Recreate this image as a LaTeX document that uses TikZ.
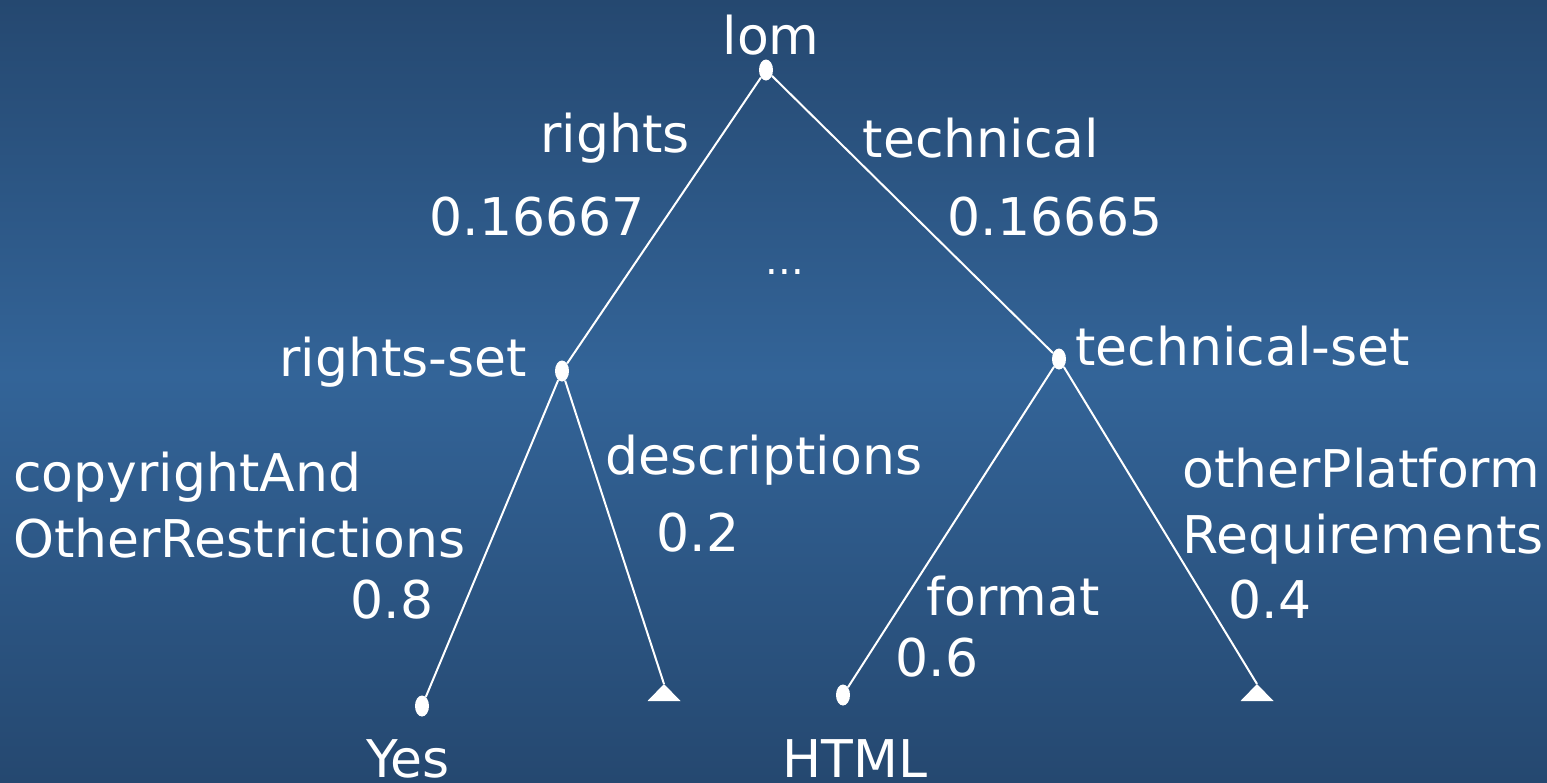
\documentclass[tikz,border=0pt]{standalone}
\usepackage{fontspec}
\setmainfont{DejaVu Sans}
\usetikzlibrary{shapes.geometric}
\definecolor{bgedge}{RGB}{37,72,112}
\definecolor{bgmid}{RGB}{51,100,152}
% vertical backdrop: dark at both edges, lighter near the middle
\pgfdeclareverticalshading{backdrop}{100bp}{color(0bp)=(bgedge); color(25bp)=(bgedge); color(51bp)=(bgmid); color(75bp)=(bgedge); color(100bp)=(bgedge)}
\begin{document}
\begin{tikzpicture}[x=1pt,y=-1pt,
  dot/.style={ellipse,fill=white,draw=none,inner sep=0pt,minimum width=14pt,minimum height=21pt},
  edge/.style={white,line width=2pt},
  lbl/.style={text=white,inner sep=0pt,font=\fontsize{52}{66}\selectfont},
  leaf/.style={white}]
% backdrop
\shade[shading=backdrop] (0,0) rectangle (1547,782);
\useasboundingbox (0,0) rectangle (1547,782);

% tree nodes
\node[dot] (lom) at (766,70) {};
\node[dot] (rs) at (562,371) {};
\node[dot] (ts) at (1059,359) {};
\node[dot] (yes) at (422,706) {};
\node[dot] (html) at (843,695) {};
\coordinate (t1) at (664,684);
\coordinate (t2) at (1257,684);
\fill[leaf] (t1) -- ++(-16.5,17) -- ++(33,0) -- cycle;
\fill[leaf] (t2) -- ++(-16.5,17) -- ++(33,0) -- cycle;

% connectors
\draw[edge] (lom) -- (rs);
\draw[edge] (lom) -- (ts);
\draw[edge] (rs) -- (yes);
\draw[edge] (rs) -- (t1);
\draw[edge] (ts) -- (html);
\draw[edge] (ts) -- (t2);

% labels
\node[lbl] (llom) at (771,35) {lom};
\node[lbl] (lrights) at (615,138) {rights};
\node[lbl] (ltech) at (981,138) {technical};
\node[lbl] (wr) at (537,217) {0.16667};
\node[lbl] (wt) at (1055,217) {0.16665};
\node[lbl,font=\fontsize{40}{48}\selectfont] (dots) at (785,272) {...};
\node[lbl,anchor=east] (lrs) at (527,362) {rights-set};
\node[lbl,anchor=west] (lts) at (1075,346) {technical-set};
\node[lbl,anchor=west,align=left] (lcopy) at (13,505) {copyrightAnd\\OtherRestrictions};
\node[lbl] (w08) at (392,600) {0.8};
\node[lbl] (ldesc) at (764,460) {descriptions};
\node[lbl] (w02) at (698,533) {0.2};
\node[lbl,anchor=west,align=left] (lother) at (1182,506) {otherPlatform\\Requirements};
\node[lbl] (w04) at (1270,600) {0.4};
\node[lbl] (lfmt) at (1013,596) {format};
\node[lbl] (w06) at (937,658) {0.6};
\node[lbl] (lyes) at (408,759) {Yes};
\node[lbl] (lhtml) at (855,759) {HTML};
\end{tikzpicture}
\end{document}
